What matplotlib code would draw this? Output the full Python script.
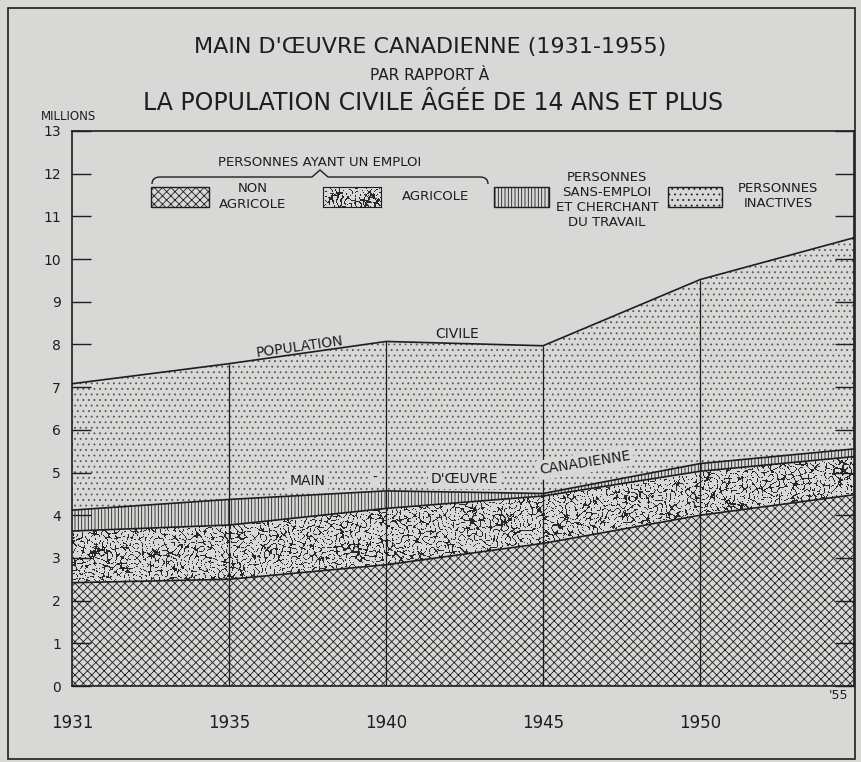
import numpy as np
import matplotlib
matplotlib.use('Agg')
import matplotlib.pyplot as plt
from matplotlib.patches import Rectangle
from matplotlib.path import Path
from matplotlib.patches import PathPatch

# data (millions)
years = ['1931', '1935', '1940', '1945', '1950', '1955']
non_agricole = [2.42, 2.50, 2.84, 3.34, 4.00, 4.49]
agricole = [1.21, 1.27, 1.32, 1.11, 1.03, 0.89]
sans_emploi = [0.49, 0.60, 0.41, 0.06, 0.18, 0.18]
inactives = [2.96, 3.18, 3.50, 3.46, 4.31, 4.96]
y_ticks = list(range(0, 14))

BG = '#d8d8d6'
INK = '#1e1e1e'
W, H = 861, 762

plt.rcParams['font.family'] = ['DejaVu Sans']
plt.rcParams['hatch.linewidth'] = 0.6
plt.rcParams['hatch.color'] = INK


def fx(x):
    return x / W


def fy(y):
    return 1 - y / H


def worm_texture(w, h, period=8.0, n=23):
    # labyrinth-like texture for the "agricole" layer
    yy, xx = np.mgrid[0:h, 0:w].astype(float)
    z = np.zeros((h, w))
    k = 2 * np.pi / period
    for i in range(n):
        a = i * 2.399963 * 0.5
        ph = ((i * 0.618034) % 1) * 2 * np.pi
        kk = k * (1 + 0.12 * np.sin(i * 1.7))
        z += np.cos(kk * (xx * np.cos(a) + yy * np.sin(a)) + ph)
    z /= np.sqrt(n / 2)
    mask = (np.abs(z) < 0.36) & (np.abs(z) > 0.04)
    img = np.zeros((h, w, 4))
    img[..., :3] = 0.12
    img[..., 3] = mask * 0.95
    return img


fig = plt.figure(figsize=(W / 100, H / 100), dpi=100)
fig.patch.set_facecolor(BG)

ax = fig.add_axes([fx(72), fy(686), fx(854) - fx(72), fy(131) - fy(686)])
ax.set_facecolor(BG)

x = np.arange(len(years))
b0 = np.zeros(len(years))
b1 = b0 + np.array(non_agricole)
b2 = b1 + np.array(agricole)
b3 = b2 + np.array(sans_emploi)
b4 = b3 + np.array(inactives)

ax.fill_between(x, b0, b1, facecolor=BG, edgecolor=INK, linewidth=0, hatch='xxxx')
agr = ax.fill_between(x, b1, b2, facecolor=BG, edgecolor='none', linewidth=0)
ax.fill_between(x, b2, b3, facecolor=BG, edgecolor=INK, linewidth=0, hatch='|||||')
ax.fill_between(x, b3, b4, facecolor=BG, edgecolor='#555555', linewidth=0, hatch='...')

xmax = 4.98
tex = worm_texture(782, 555)
im = ax.imshow(tex, extent=(0, xmax, 0, 13), origin='lower', aspect='auto',
               interpolation='nearest', zorder=2)
im.set_clip_path(agr.get_paths()[0], transform=ax.transData)

for b in (b1, b2, b3, b4):
    ax.plot(x, b, color=INK, linewidth=1.2, zorder=3)
ax.vlines(x[1:5], 0, b4[1:5], color=INK, linewidth=0.9, zorder=3)

ax.set_xlim(0, xmax)
ax.set_ylim(0, 13)
ax.set_yticks(y_ticks, [str(t) for t in y_ticks])
ax.tick_params(axis='y', direction='in', length=14, width=1, color=INK,
               labelsize=10, pad=8, right=True, labelcolor=INK)
ax.set_xticks(x[:5], years[:5])
ax.tick_params(axis='x', length=0, labelsize=12, pad=20, labelcolor=INK)
for s in ax.spines.values():
    s.set_color(INK)
    s.set_linewidth(1.2)

# in-chart labels
lab = dict(color=INK, fontsize=10, ha='center', va='center', zorder=5)
box = dict(facecolor=BG, edgecolor='none', pad=2)
ax.text(1.45, 7.95, 'POPULATION', rotation=8, **lab)
ax.text(2.45, 8.25, 'CIVILE', rotation=0, **lab)
ax.text(1.5, 4.8, 'MAIN', bbox=box, **lab)
ax.text(1.93, 4.88, '-', bbox=box, **lab)
ax.text(2.5, 4.85, "D'ŒUVRE", bbox=box, **lab)
ax.text(3.27, 5.22, 'CANADIENNE', rotation=9, bbox=box, **lab)
ax.text(4.88, -0.22, "'55", color=INK, fontsize=9, ha='center', va='center')
fig.text(fx(68), fy(117), 'MILLIONS', color=INK, fontsize=8.5, ha='center', va='center')

# titles
fig.text(fx(430), fy(47), "MAIN D'ŒUVRE CANADIENNE (1931-1955)", color=INK,
         fontsize=16, ha='center', va='center')
fig.text(fx(430), fy(75), 'PAR RAPPORT À', color=INK, fontsize=11,
         ha='center', va='center')
fig.text(fx(433), fy(103), 'LA POPULATION CIVILE ÂGÉE DE 14 ANS ET PLUS',
         color=INK, fontsize=17, ha='center', va='center')

# legend
def legend_box(x0, x1, hatch=None):
    r = Rectangle((fx(x0), fy(207)), fx(x1) - fx(x0), fy(187) - fy(207),
                  transform=fig.transFigure, facecolor=BG, edgecolor=INK,
                  linewidth=1, hatch=hatch, zorder=5)
    fig.add_artist(r)


legend_box(151, 209, 'xxxx')
lax = fig.add_axes([fx(323), fy(207), fx(381) - fx(323), fy(187) - fy(207)])
lax.imshow(worm_texture(58, 20), origin='lower', aspect='auto', interpolation='nearest')
lax.set_facecolor(BG)
lax.set_xticks([])
lax.set_yticks([])
for s in lax.spines.values():
    s.set_color(INK)
legend_box(494, 549, '|||||')
legend_box(668, 722, '...')

leg = dict(color=INK, fontsize=9.5, ha='center', va='center')
fig.text(fx(253), fy(197), 'NON\nAGRICOLE', linespacing=1.3, **leg)
fig.text(fx(436), fy(197), 'AGRICOLE', **leg)
fig.text(fx(607), fy(200), 'PERSONNES\nSANS-EMPLOI\nET CHERCHANT\nDU TRAVAIL',
         linespacing=1.2, **leg)
fig.text(fx(778), fy(196), 'PERSONNES\nINACTIVES', linespacing=1.2, **leg)
fig.text(fx(320), fy(162), 'PERSONNES AYANT UN EMPLOI', **leg)

# brace above the two employed boxes
pts = [(152, 184), (152, 177), (160, 177), (312, 177), (320, 170), (328, 177),
       (480, 177), (488, 177), (488, 184)]
codes = [Path.MOVETO, Path.CURVE3, Path.CURVE3, Path.LINETO, Path.LINETO,
         Path.LINETO, Path.LINETO, Path.CURVE3, Path.CURVE3]
brace = Path([(fx(a), fy(b)) for a, b in pts], codes)
fig.add_artist(PathPatch(brace, transform=fig.transFigure, facecolor='none',
                         edgecolor=INK, linewidth=1))

# outer frame
fig.add_artist(Rectangle((fx(8), fy(759)), fx(855) - fx(8), fy(8) - fy(759),
                         transform=fig.transFigure, facecolor='none',
                         edgecolor=INK, linewidth=1.2))

fig.savefig('out.png', dpi=100, facecolor=BG)
